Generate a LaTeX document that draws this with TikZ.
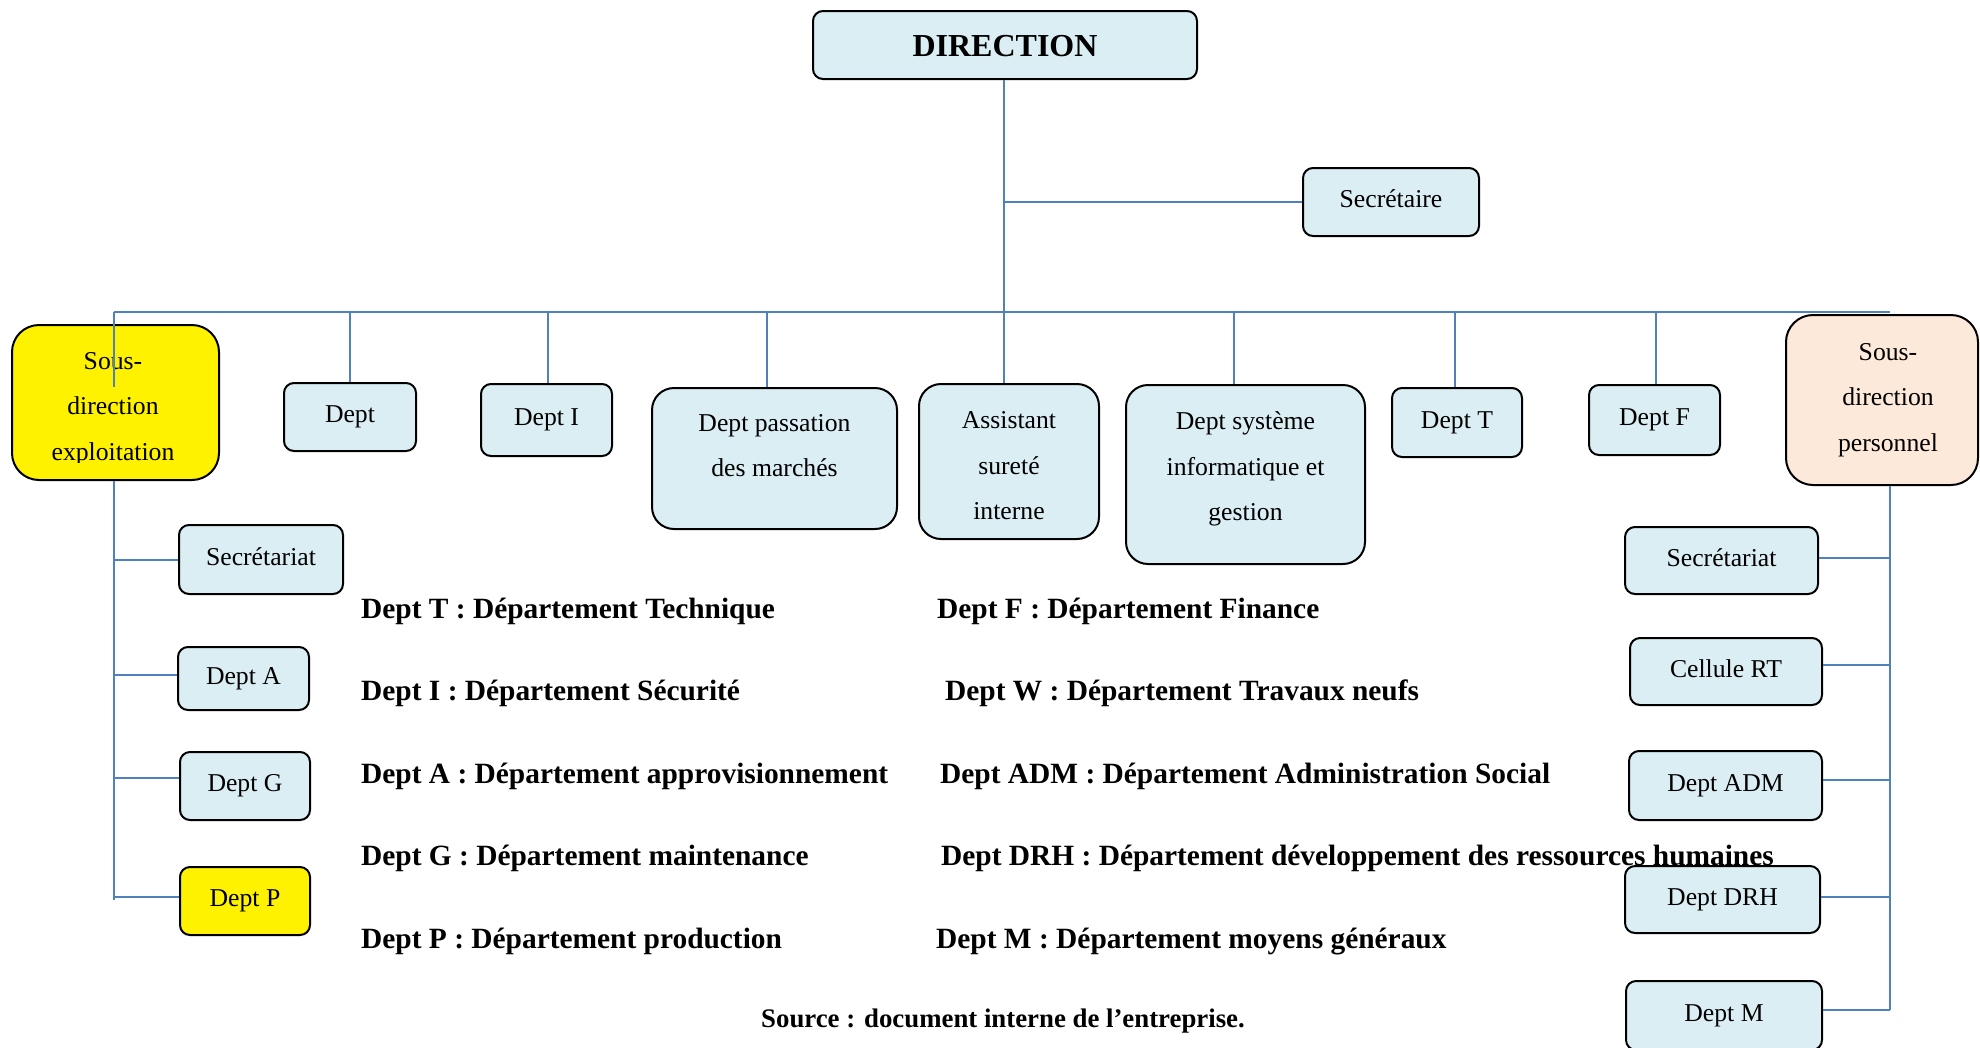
\documentclass[tikz,border=0pt]{standalone}
\usepackage{fontspec}
\setmainfont{Liberation Serif}
\definecolor{linkblue}{RGB}{79,129,189}
\definecolor{boxblue}{RGB}{219,238,243}
\definecolor{peach}{RGB}{253,233,217}
\newcommand\orgboxfont{\fontsize{25.7pt}{45.5pt}\selectfont}
\newcommand\orgdirfont{\fontsize{32pt}{36pt}\selectfont\bfseries}
\newcommand\orglegfont{\fontsize{29.4pt}{34pt}\selectfont\bfseries}
\newcommand\orgsrcfont{\fontsize{26.8pt}{31pt}\selectfont\bfseries}
\begin{document}
\begin{tikzpicture}[x=1pt,y=-1pt,
  link/.style={draw=linkblue, line width=2pt},
  box/.style={draw=black, line width=2pt, fill=boxblue, rounded corners=10pt,
              inner sep=0pt, font=\orgboxfont, align=center,
              text height=17.5pt, text depth=6.5pt},
  bigbox/.style={box, rounded corners=22pt},
  subbox/.style={box, rounded corners=27pt},
  boxtext/.style={font=\orgboxfont, align=center, inner sep=0pt},
  legend/.style={font=\orglegfont, anchor=base west, inner sep=0pt}]

\useasboundingbox (0,0) rectangle (1980,1047);
\fill[white] (0,0) rectangle (1980,1047);

% top of the chart
\node[box, font=\orgdirfont, text height=22pt, text depth=0pt,
      minimum width=384pt, minimum height=68pt] (dir) at (1005,45) {DIRECTION};
\node[box, minimum width=176pt, minimum height=68pt] (sec) at (1391,202) {Secrétaire};

% junction points of the main bus and the two side spines
\coordinate (busL) at (114,312);
\coordinate (busR) at (1890,312);
\coordinate (sdeIn) at (114,387);
\coordinate (lspBot) at (114,900);
\coordinate (rspBot) at (1890,1010);

% second row
\node[subbox, fill=yellow, minimum width=207pt, minimum height=155pt] (sde) at (115.5,402.5) {};
\begin{scope}
  \clip (0,0) rectangle (1980,462);
  \node[boxtext] (sdetext) at (113,409) {Sous-\\direction\\exploitation};
\end{scope}
\node[box, minimum width=132pt, minimum height=68pt] (d0) at (350,417) {Dept};
\node[box, minimum width=131pt, minimum height=72pt] (dI) at (546.5,420) {Dept I};
\node[bigbox, minimum width=245pt, minimum height=141pt] (dpm) at (774.5,458.5) {};
\node[boxtext] (dpmtext) at (774.5,445.5) {Dept passation\\des marchés};
\node[bigbox, minimum width=180pt, minimum height=155pt] (ast) at (1009,461.5) {};
\node[boxtext] (asttext) at (1009,466) {Assistant\\sureté\\interne};
\node[bigbox, minimum width=239pt, minimum height=179pt] (dsi) at (1245.5,474.5) {};
\node[boxtext] (dsitext) at (1245.5,469) {Dept système\\informatique et\\gestion};
\node[box, minimum width=130pt, minimum height=69pt] (dT) at (1457,422.5) {Dept T};
\node[box, minimum width=131pt, minimum height=70pt] (dF) at (1654.5,420) {Dept F};
\node[subbox, fill=peach, minimum width=192pt, minimum height=170pt] (sdp) at (1882,400) {};
\node[boxtext] (sdptext) at (1888,400) {Sous-\\direction\\personnel};

% left branch
\node[box, minimum width=164pt, minimum height=69pt] (ls1) at (261,559.5) {Secrétariat};
\node[box, minimum width=131pt, minimum height=63pt] (lA) at (243.5,678.5) {Dept A};
\node[box, minimum width=130pt, minimum height=68pt] (lG) at (245,786) {Dept G};
\node[box, fill=yellow, minimum width=130pt, minimum height=68pt] (lP) at (245,901) {Dept P};

% right branch
\node[box, minimum width=193pt, minimum height=67pt] (rs1) at (1721.5,560.5) {Secrétariat};
\node[box, minimum width=192pt, minimum height=67pt] (rRT) at (1726,671.5) {Cellule RT};
\node[box, minimum width=193pt, minimum height=69pt] (rADM) at (1725.5,785.5) {Dept ADM};
\node[box, minimum width=195pt, minimum height=67pt] (rDRH) at (1722.5,899.5) {Dept DRH};
\node[box, minimum width=196pt, minimum height=69pt] (rM) at (1724,1015.5) {Dept M};

% connectors
\draw[link] ([xshift=-1pt]dir.south) -- ([xshift=-1pt]dir.south |- busL);
\draw[link] ([xshift=-1pt]dir.south |- sec.west) -- (sec.west);
\draw[link] (busL) -- (busR);
\draw[link] (busL) -- (sdeIn);
\draw[link] (d0.north |- busL) -- (d0.north);
\draw[link] ([xshift=1.5pt]dI.north |- busL) -- ([xshift=1.5pt]dI.north);
\draw[link] ([xshift=-7.5pt]dpm.north |- busL) -- ([xshift=-7.5pt]dpm.north);
\draw[link] ([xshift=-5pt]ast.north |- busL) -- ([xshift=-5pt]ast.north);
\draw[link] ([xshift=-11.5pt]dsi.north |- busL) -- ([xshift=-11.5pt]dsi.north);
\draw[link] ([xshift=-2pt]dT.north |- busL) -- ([xshift=-2pt]dT.north);
\draw[link] ([xshift=1pt]dF.north |- busL) -- ([xshift=1pt]dF.north);

\draw[link] (lspBot |- sde.south) -- (lspBot);
\draw[link] (ls1.west) -- (ls1.west -| lspBot);
\draw[link] ([yshift=3.5pt]lA.west) -- ([yshift=3.5pt]lA.west -| lspBot);
\draw[link] ([yshift=8pt]lG.west) -- ([yshift=8pt]lG.west -| lspBot);
\draw[link] ([yshift=4pt]lP.west) -- ([yshift=4pt]lP.west -| lspBot);

\draw[link] (rspBot |- sdp.south) -- (rspBot);
\draw[link] ([yshift=2.5pt]rs1.east) -- ([yshift=2.5pt]rs1.east -| rspBot);
\draw[link] ([yshift=6.5pt]rRT.east) -- ([yshift=6.5pt]rRT.east -| rspBot);
\draw[link] ([yshift=5.5pt]rADM.east) -- ([yshift=5.5pt]rADM.east -| rspBot);
\draw[link] ([yshift=2.5pt]rDRH.east) -- ([yshift=2.5pt]rDRH.east -| rspBot);
\draw[link] (rM.east |- rspBot) -- (rspBot);

% abbreviations
\node[legend] (lgT) at (361,618) {Dept T : Département Technique};
\node[legend] (lgI) at (361,700) {Dept I : Département Sécurité};
\node[legend] (lgA) at (361,783) {Dept A : Département approvisionnement};
\node[legend] (lgG) at (361,865) {Dept G : Département maintenance};
\node[legend] (lgP) at (361,948) {Dept P : Département production};
\node[legend] (lgF) at (937,618) {Dept F : Département Finance};
\node[legend] (lgW) at (945,700) {Dept W : Département Travaux neufs};
\node[legend] (lgADM) at (940,783) {Dept ADM : Département Administration Social};
\node[legend] (lgDRH) at (941,865) {Dept DRH : Département développement des ressources humaines};
\node[legend] (lgM) at (936,948) {Dept M : Département moyens généraux};

\node[font=\orgsrcfont, anchor=base, inner sep=0pt] (src) at (1003,1027) {Source : document interne de l’entreprise.};
\end{tikzpicture}
\end{document}
